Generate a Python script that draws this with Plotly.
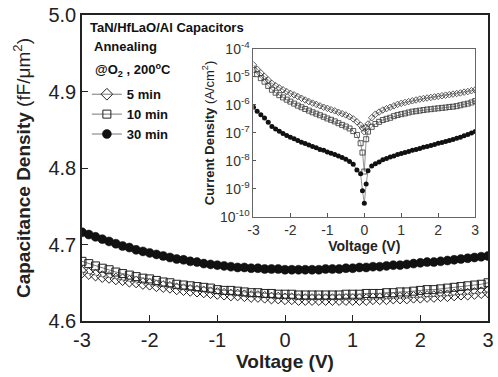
import plotly.graph_objects as go

# ---------------- main C-V data ----------------
cv_voltage = [round(-3 + 0.1 * i, 1) for i in range(61)]

cap_5min = [4.664, 4.662, 4.660, 4.658, 4.657, 4.655, 4.654, 4.652, 4.651, 4.649,
            4.648, 4.646, 4.645, 4.644, 4.642, 4.641, 4.640, 4.639, 4.638, 4.637,
            4.636, 4.635, 4.634, 4.634, 4.633, 4.632, 4.632, 4.631, 4.630, 4.630,
            4.629, 4.629, 4.628, 4.628, 4.628, 4.628, 4.628, 4.628, 4.628, 4.628,
            4.628, 4.628, 4.628, 4.629, 4.629, 4.629, 4.630, 4.630, 4.630, 4.631,
            4.631, 4.632, 4.632, 4.633, 4.633, 4.634, 4.635, 4.635, 4.636, 4.637,
            4.638]

cap_10min = [4.678, 4.675, 4.672, 4.669, 4.667, 4.664, 4.662, 4.660, 4.658, 4.656,
             4.655, 4.653, 4.651, 4.650, 4.648, 4.647, 4.646, 4.645, 4.644, 4.643,
             4.641, 4.640, 4.640, 4.639, 4.638, 4.637, 4.637, 4.636, 4.636, 4.635,
             4.635, 4.635, 4.634, 4.634, 4.634, 4.634, 4.634, 4.634, 4.634, 4.635,
             4.635, 4.635, 4.636, 4.636, 4.636, 4.637, 4.637, 4.638, 4.638, 4.639,
             4.640, 4.641, 4.641, 4.642, 4.643, 4.644, 4.645, 4.646, 4.647, 4.648,
             4.650]

cap_30min = [4.716, 4.713, 4.710, 4.707, 4.704, 4.701, 4.698, 4.696, 4.693, 4.691,
             4.689, 4.687, 4.685, 4.683, 4.681, 4.680, 4.678, 4.677, 4.675, 4.674,
             4.673, 4.672, 4.671, 4.670, 4.670, 4.669, 4.669, 4.668, 4.668, 4.668,
             4.667, 4.667, 4.667, 4.667, 4.667, 4.667, 4.668, 4.668, 4.668, 4.669,
             4.669, 4.670, 4.670, 4.671, 4.671, 4.672, 4.673, 4.673, 4.674, 4.675,
             4.676, 4.677, 4.677, 4.678, 4.679, 4.680, 4.681, 4.682, 4.683, 4.684,
             4.685]

# ---------------- inset J-V data ----------------
iv_voltage = [-3.0, -2.9, -2.8, -2.7, -2.6, -2.5, -2.4, -2.3, -2.2, -2.1,
              -2.0, -1.9, -1.8, -1.7, -1.6, -1.5, -1.4, -1.3, -1.2, -1.1,
              -1.0, -0.9, -0.8, -0.7, -0.6, -0.5, -0.4, -0.3, -0.2, -0.1,
              -0.05, 0.0, 0.05,
              0.1, 0.2, 0.3, 0.4, 0.5, 0.6, 0.7, 0.8, 0.9, 1.0,
              1.1, 1.2, 1.3, 1.4, 1.5, 1.6, 1.7, 1.8, 1.9, 2.0,
              2.1, 2.2, 2.3, 2.4, 2.5, 2.6, 2.7, 2.8, 2.9, 3.0]

j_5min = [2.7e-5, 1.9e-5, 1.4e-5, 1.05e-5, 7.8e-6, 5.9e-6, 4.9e-6, 4.1e-6, 3.5e-6, 3.0e-6,
          2.6e-6, 2.3e-6, 2.0e-6, 1.74e-6, 1.51e-6, 1.32e-6, 1.17e-6, 1.05e-6, 9.3e-7, 8.3e-7,
          7.6e-7, 6.8e-7, 6.2e-7, 5.5e-7, 4.9e-7, 4.4e-7, 3.8e-7, 3.2e-7, 2.5e-7, 1.9e-7,
          1.5e-7, 1.1e-7, 1.6e-7,
          2.1e-7, 3.5e-7, 4.7e-7, 5.6e-7, 6.6e-7, 7.4e-7, 8.3e-7, 9.3e-7, 1.05e-6, 1.15e-6,
          1.23e-6, 1.32e-6, 1.41e-6, 1.51e-6, 1.62e-6, 1.70e-6, 1.78e-6, 1.86e-6, 1.95e-6, 2.04e-6,
          2.14e-6, 2.24e-6, 2.34e-6, 2.45e-6, 2.57e-6, 2.69e-6, 2.88e-6, 3.02e-6, 3.24e-6, 3.47e-6]

j_10min = [1.8e-5, 1.26e-5, 9.1e-6, 6.8e-6, 4.8e-6, 3.5e-6, 2.75e-6, 2.24e-6, 1.86e-6, 1.55e-6,
           1.32e-6, 1.12e-6, 9.5e-7, 8.3e-7, 7.2e-7, 6.3e-7, 5.5e-7, 4.9e-7, 4.3e-7, 3.8e-7,
           3.3e-7, 2.95e-7, 2.6e-7, 2.24e-7, 1.95e-7, 1.7e-7, 1.45e-7, 1.17e-7, 8.5e-8, 4.3e-8,
           2.0e-8, 4.2e-9, 6.0e-8,
           1.12e-7, 1.66e-7, 2.1e-7, 2.5e-7, 2.9e-7, 3.2e-7, 3.5e-7, 4.0e-7, 4.4e-7, 4.7e-7,
           5.0e-7, 5.4e-7, 5.8e-7, 6.0e-7, 6.3e-7, 6.6e-7, 6.9e-7, 7.1e-7, 7.4e-7, 7.6e-7,
           7.9e-7, 8.1e-7, 8.5e-7, 8.7e-7, 9.1e-7, 9.8e-7, 1.05e-6, 1.12e-6, 1.23e-6, 1.38e-6]

j_30min = [8.3e-7, 6.0e-7, 4.5e-7, 3.4e-7, 2.4e-7, 1.7e-7, 1.38e-7, 1.15e-7, 9.5e-8, 8.1e-8,
           7.1e-8, 6.2e-8, 5.4e-8, 4.7e-8, 4.2e-8, 3.7e-8, 3.3e-8, 2.95e-8, 2.6e-8, 2.4e-8,
           2.1e-8, 1.9e-8, 1.7e-8, 1.5e-8, 1.32e-8, 1.15e-8, 9.5e-9, 7.6e-9, 4.8e-9, 3.5e-9,
           8.7e-10, 3.1e-10, 1.5e-9,
           4.5e-9, 6.6e-9, 7.9e-9, 9.3e-9, 1.1e-8, 1.23e-8, 1.38e-8, 1.5e-8, 1.7e-8, 1.86e-8,
           2.0e-8, 2.2e-8, 2.4e-8, 2.6e-8, 2.8e-8, 3.1e-8, 3.3e-8, 3.6e-8, 3.9e-8, 4.3e-8,
           4.6e-8, 5.0e-8, 5.4e-8, 5.9e-8, 6.5e-8, 7.1e-8, 7.9e-8, 8.9e-8, 1.0e-7, 1.12e-7]

series_names = ["5 min", "10 min", "30 min"]
main_ticks = [-3, -2, -1, 0, 1, 2, 3]
cap_ticks = [4.6, 4.7, 4.8, 4.9, 5.0]
inset_yticks = [1e-4, 1e-5, 1e-6, 1e-7, 1e-8, 1e-9, 1e-10]
inset_ytext = ["10<sup>-4</sup>", "10<sup>-5</sup>", "10<sup>-6</sup>", "10<sup>-7</sup>",
               "10<sup>-8</sup>", "10<sup>-9</sup>", "10<sup>-10</sup>"]

FONT = "Liberation Sans, Arial, sans-serif"
LINE_C = "#777777"

styles = [
    dict(symbol="diamond-open", size=9, color="#222222", line=dict(width=1, color="#222222")),
    dict(symbol="square-open", size=8, color="#222222", line=dict(width=1, color="#222222")),
    dict(symbol="circle", size=9, color="#111111", line=dict(width=0.5, color="#111111")),
]
inset_styles = [
    dict(symbol="diamond-open", size=5, color="#333333", line=dict(width=0.8, color="#333333")),
    dict(symbol="square-open", size=5, color="#333333", line=dict(width=0.8, color="#333333")),
    dict(symbol="circle", size=5, color="#111111", line=dict(width=0, color="#111111")),
]

fig = go.Figure()

for name, ys, st in zip(series_names, [cap_5min, cap_10min, cap_30min], styles):
    fig.add_trace(go.Scatter(
        x=cv_voltage, y=ys, mode="lines+markers", name=name,
        line=dict(color=LINE_C, width=1), marker=st,
        xaxis="x", yaxis="y", showlegend=True,
    ))

for ys, st in zip([j_5min, j_10min, j_30min], inset_styles):
    fig.add_trace(go.Scatter(
        x=iv_voltage, y=ys, mode="lines+markers",
        line=dict(color=LINE_C, width=0.8), marker=st,
        xaxis="x2", yaxis="y2", showlegend=False,
    ))

fig.update_layout(
    width=498, height=377,
    margin=dict(l=82, r=4, t=15, b=56),
    paper_bgcolor="white", plot_bgcolor="white",
    font=dict(family=FONT, color="#222222"),
    showlegend=True,
    legend=dict(
        x=0.012, y=0.79, xanchor="left", yanchor="top",
        bgcolor="rgba(0,0,0,0)", borderwidth=0,
        font=dict(size=13, family=FONT, color="#111111", weight="bold"),
        tracegroupgap=0, itemwidth=30,
    ),
    xaxis=dict(
        range=[-3, 3], tickvals=main_ticks, ticktext=[str(t) for t in main_ticks],
        ticks="inside", ticklen=6, tickwidth=1.2, tickcolor="#222222",
        showline=True, linecolor="#222222", linewidth=1.5, mirror=True,
        showgrid=False, zeroline=False,
        tickfont=dict(size=20, family=FONT, color="#222222"),
        title=dict(text="<b>Voltage (V)</b>", font=dict(size=19, family=FONT, color="#222222"),
                   standoff=2),
    ),
    yaxis=dict(
        range=[4.6, 5.0], tickvals=cap_ticks, ticktext=["%.1f" % t for t in cap_ticks],
        ticks="inside", ticklen=6, tickwidth=1.2, tickcolor="#222222",
        showline=True, linecolor="#222222", linewidth=1.5, mirror=True,
        showgrid=False, zeroline=False,
        tickfont=dict(size=20, family=FONT, color="#222222"),
        title=dict(text="<b>Capacitance Density </b>(fF/μm<sup>2</sup>)",
                   font=dict(size=19, family=FONT, color="#222222"), standoff=13),
    ),
    xaxis2=dict(
        domain=[0.4223, 0.9684], anchor="y2",
        range=[-3, 3], tickvals=main_ticks, ticktext=[str(t) for t in main_ticks],
        ticks="inside", ticklen=4, tickwidth=1, tickcolor="#555555",
        showline=True, linecolor="#666666", linewidth=1, mirror=True,
        showgrid=False, zeroline=False,
        tickfont=dict(size=14, family=FONT, color="#333333"),
        title=dict(text="<b>Voltage (V)</b>", font=dict(size=14, family=FONT, color="#222222"),
                   standoff=0),
    ),
    yaxis2=dict(
        domain=[0.3399, 0.8889], anchor="x2", type="log",
        range=[-10, -4], tickvals=inset_yticks, ticktext=inset_ytext,
        ticks="inside", ticklen=3, tickwidth=1, tickcolor="#555555",
        showline=True, linecolor="#666666", linewidth=1, mirror=True,
        showgrid=False, zeroline=False,
        tickfont=dict(size=14, family=FONT, color="#333333"),
        title=dict(text="<b>Current Density </b>(A/cm<sup>2</sup>)",
                   font=dict(size=13, family=FONT, color="#222222"), standoff=2),
    ),
)

annots = [
    dict(text="<b>TaN/HfLaO/Al Capacitors</b>", x=88, y=28, size=13),
    dict(text="<b>Annealing</b>", x=92, y=47, size=13),
    dict(text="<b>@O<sub>2</sub> , 200<sup>o</sup>C</b>", x=93, y=70, size=13),
]
for a in annots:
    fig.add_annotation(
        text=a["text"], xref="paper", yref="paper",
        x=(a["x"] - 82) / 412, y=(321 - a["y"]) / 306,
        xanchor="left", yanchor="middle", showarrow=False,
        font=dict(size=a["size"], family=FONT, color="#111111"),
    )

fig.write_html("out.html")
